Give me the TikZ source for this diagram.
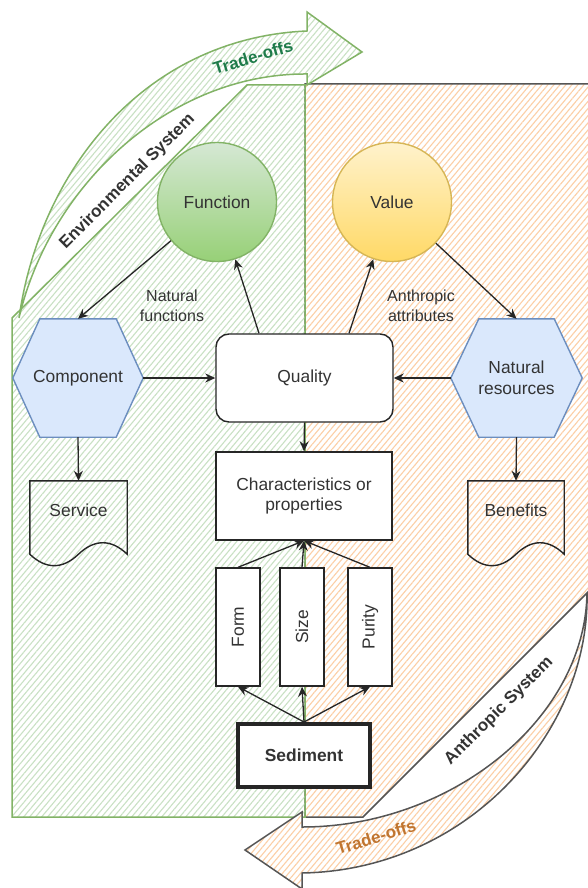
\documentclass[tikz,border=0pt]{standalone}
\usepackage{fontspec}
\usepackage{graphicx}
\setmainfont{Liberation Sans}
\usetikzlibrary{patterns.meta,arrows.meta,calc}
\definecolor{hatchgreen}{HTML}{C9E1C4}
\definecolor{hatchorange}{HTML}{FCCFA6}
\definecolor{greenline}{HTML}{82B366}
\definecolor{greyline}{HTML}{555555}
\definecolor{txt}{HTML}{333333}
\definecolor{hexfill}{HTML}{DAE8FC}
\definecolor{hexline}{HTML}{6C8EBF}
\definecolor{fgreenT}{HTML}{D5E8D4}
\definecolor{fgreenB}{HTML}{97D077}
\definecolor{fyelT}{HTML}{FFF2CC}
\definecolor{fyelB}{HTML}{FFD966}
\definecolor{yelline}{HTML}{D6B656}
\definecolor{tradegreen}{HTML}{1E7B4A}
\definecolor{tradeorange}{HTML}{C07530}
\newcommand\fsMain{\fontsize{17.4}{20.9}\selectfont}
\newcommand\fsLbl{\fontsize{16}{19.5}\selectfont}
\newcommand\fsBold{\fontsize{17}{20}\selectfont\bfseries}
\pgfdeclarelayer{regions}
\pgfdeclarelayer{shapesbg}
\pgfsetlayers{regions,shapesbg,main}
\newcommand\drawDocShape[1]{%
  \draw[docline] (#1.north west) -- (#1.north east) -- ($(#1.south east)+(0,15)$)
    .. controls ($(#1.south east)+(-16,-0.3)$) and ($(#1.south)+(16,-0.3)$) .. ($(#1.south)+(0,15)$)
    .. controls ($(#1.south)+(-16,30.3)$) and ($(#1.south west)+(16,30.3)$) .. ($(#1.south west)+(0,15)$)
    -- cycle;}
\tikzset{
  box/.style={draw=black!85, line width=1.4pt, fill=white, text=txt, font=\fsMain, align=center, inner sep=0pt},
  qualbox/.style={box, rounded corners=13pt, minimum width=177pt, minimum height=88pt},
  charbox/.style={box, minimum width=176pt, minimum height=88pt},
  propbox/.style={box, minimum width=44pt, minimum height=118pt},
  sedbox/.style={box, line width=4pt, minimum width=132pt, minimum height=63pt, font=\fsMain\bfseries},
  circ/.style={circle, minimum size=119pt, inner sep=0pt, line width=1.4pt, text=txt, font=\fsMain},
  hexnode/.style={rectangle, minimum height=118pt, inner sep=0pt, text=txt, font=\fsMain, align=center},
  hexshape/.style={fill=hexfill, draw=hexline, line width=1.4pt},
  docnode/.style={rectangle, minimum height=58pt, inner sep=0pt, text=txt, font=\fsMain},
  docline/.style={draw=black!85, line width=1.4pt},
  lbl/.style={text=txt, font=\fsLbl, align=center, inner sep=0pt},
  conn/.style={draw=black!85, line width=1.3pt, -{Stealth[length=10pt,width=9pt]}},
  systxt/.style={text=txt, font=\fsBold, inner sep=0pt},
  tradetxt/.style={font=\fsBold, inner sep=0pt},
  greenreg/.style={draw=greenline, line width=1.5pt, pattern={Lines[angle=50,distance=4.6pt,line width=1.1pt]}, pattern color=hatchgreen},
  orangereg/.style={draw=greyline, line width=1.5pt, pattern={Lines[angle=50,distance=4.6pt,line width=1.1pt]}, pattern color=hatchorange},
}
\begin{document}
\begin{tikzpicture}[x=1pt,y=-1pt]
\clip (0,0) rectangle (588,888);
% ---- nodes ----
\node[circ, shade, top color=fgreenT, bottom color=fgreenB, draw=greenline] (func) at (217,202) {Function};
\node[circ, shade, top color=fyelT, bottom color=fyelB, draw=yelline] (val) at (392,202) {Value};
\node[qualbox] (qual) at (304.5,378) {Quality};
\node[charbox] (char) at (304,496) {Characteristics or\\properties};
\node[hexnode, minimum width=130pt] (comp) at (78,378) {Component};
\node[hexnode, minimum width=131pt] (nat) at (516.5,378) {Natural\\resources};
\node[docnode, minimum width=97pt] (serv) at (78.5,510) {Service};
\node[docnode, minimum width=96pt] (bene) at (516,510) {Benefits};
\node[propbox] (form) at (238,627) {\rotatebox{90}{Form}};
\node[propbox] (size) at (302,627) {\rotatebox{90}{Size}};
\node[propbox] (pur) at (370,627) {\rotatebox{90}{Purity}};
\node[sedbox] (sed) at (304,755.5) {Sediment};
\node[lbl] (natfun) at (172,306) {Natural\\functions};
\node[lbl] (antatt) at (421,306) {Anthropic\\attributes};
\node[systxt, rotate=45] (envsys) at (127.5,181.5) {Environmental System};
\node[systxt, rotate=45] (antsys) at (499,711) {Anthropic System};
% ---- background regions and big arrows ----
\begin{pgfonlayer}{regions}
  \fill[white] (0,0) rectangle (588,888);
  \path[orangereg] (305,84) -- (592,84) -- (592,588) -- (363,817) -- (305,817) -- cycle;
  \path[greenreg] (247,85) -- (305,85) -- (305,817) -- (12,817) -- (12,318) -- cycle;
  \path[greenreg, preaction={fill=white}] (19,318) .. controls (40,170) and (145,38) .. (307,31)
     -- (307,12) -- (362,52) -- (307,85) -- (307,74)
     .. controls (170,73) and (50,185) .. (19,318) -- cycle;
  \path[orangereg, preaction={fill=white}] (587,593) .. controls (590,730) and (470,870) .. (302,873)
     -- (302,889) -- (245,850) -- (302,812) -- (302,827)
     .. controls (450,827) and (585,720) .. (587,593) -- cycle;
\end{pgfonlayer}
\node[tradetxt, text=tradegreen, rotate=17] (tradeg) at (253,57) {Trade-offs};
\node[tradetxt, text=tradeorange, rotate=17] (tradeo) at (376,837) {Trade-offs};
% ---- hexagon outlines ----
\begin{pgfonlayer}{shapesbg}
  \path[hexshape] (comp.west) -- ($(comp.north west)+(27,0)$) -- ($(comp.north east)+(-27,0)$) -- (comp.east)
     -- ($(comp.south east)+(-27,0)$) -- ($(comp.south west)+(27,0)$) -- cycle;
  \path[hexshape] (nat.west) -- ($(nat.north west)+(28,0)$) -- ($(nat.north east)+(-28,0)$) -- (nat.east)
     -- ($(nat.south east)+(-28,0)$) -- ($(nat.south west)+(28,0)$) -- cycle;
\end{pgfonlayer}
% ---- documents ----
\drawDocShape{serv}
\drawDocShape{bene}
% ---- connectors ----
\draw[conn] (func) -- (comp.north);
\draw[conn] ([xshift=-45.5pt]qual.north) -- (func);
\draw[conn] ([xshift=44.5pt]qual.north) -- (val);
\draw[conn] (val) -- (nat.north);
\draw[conn] (comp.east) -- (qual.west);
\draw[conn] (nat.west) -- (qual.east);
\draw[conn] (comp.south) -- (serv.north);
\draw[conn] (nat.south) -- (bene.north);
\draw[conn] (qual.south) -- (char.north);
\draw[conn] (form.north) -- (char.south);
\draw[conn] (size.north) -- (char.south);
\draw[conn] (pur.north) -- (char.south);
\draw[conn] (sed.north) -- (form.south);
\draw[conn] (sed.north) -- (size.south);
\draw[conn] (sed.north) -- (pur.south);
\end{tikzpicture}
\end{document}
